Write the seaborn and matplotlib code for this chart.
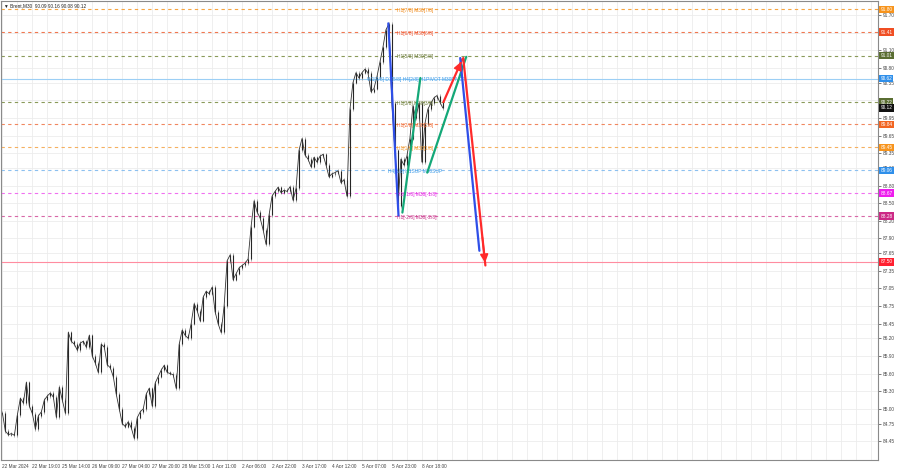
import matplotlib
matplotlib.use("Agg")
import matplotlib.pyplot as plt
import matplotlib.transforms as mtransforms
import numpy as np
import pandas as pd
import seaborn as sns

# Brent M30 closes (about one value per 3 px of chart width)
closes = [84.93, 84.62, 84.56, 84.58, 84.55, 84.90, 85.18, 85.10, 85.45, 85.05,
          84.92, 84.66, 84.88, 84.95, 85.15, 85.22, 85.27, 85.20, 84.86, 85.37,
          85.15, 84.93, 86.30, 86.15, 86.10, 86.00, 86.12, 86.15, 86.05, 86.25,
          85.90, 85.78, 85.62, 86.10, 86.05, 85.75, 85.70, 85.55, 85.25, 85.00,
          84.75, 84.70, 84.78, 84.68, 84.50, 84.85, 84.95, 85.00, 85.25, 85.35,
          85.05, 85.44, 85.55, 85.66, 85.74, 85.62, 85.60, 85.58, 85.35, 86.10,
          86.34, 86.25, 86.20, 86.45, 86.79, 86.67, 86.50, 86.90, 87.00, 86.96,
          87.07, 86.65, 86.45, 86.30, 86.75, 87.52, 87.62, 87.20, 87.30, 87.40,
          87.44, 87.48, 87.55, 88.10, 88.54, 88.35, 88.25, 88.05, 87.80, 88.30,
          88.62, 88.70, 88.77, 88.68, 88.72, 88.70, 88.78, 88.55, 88.75, 89.40,
          89.60, 89.32, 89.25, 89.12, 89.28, 89.20, 89.30, 89.33, 89.15, 88.95,
          89.00, 89.02, 89.05, 88.85, 88.90, 88.62, 90.10, 90.55, 90.72, 90.63,
          90.72, 90.78, 90.72, 90.40, 90.45, 90.65, 90.90, 91.15, 91.45, 91.55,
          90.20, 89.40, 88.45, 89.25, 89.15, 89.30, 89.60, 90.15, 89.95, 90.20,
          89.20, 89.85, 90.10, 90.20, 90.29, 90.33, 90.22, 90.12]

date_labels = ["22 Mar 2024", "22 Mar 19:00", "25 Mar 14:00", "26 Mar 09:00",
               "27 Mar 04:00", "27 Mar 20:00", "28 Mar 15:00", "1 Apr 11:00",
               "2 Apr 06:00", "2 Apr 22:00", "3 Apr 17:00", "4 Apr 12:00",
               "5 Apr 07:00", "5 Apr 23:00", "8 Apr 18:00"]
date_bars = list(range(0, 150, 10))

# right-axis labels that are not hidden behind the level boxes
price_ticks = [91.70, 91.10, 90.80, 90.55, 89.95, 89.65, 89.35,
               89.10, 88.80, 88.50, 88.20, 87.90, 87.65, 87.35, 87.05, 86.75,
               86.45, 86.20, 85.90, 85.60, 85.30, 85.00, 84.75, 84.45]
grid_prices = [91.70, 91.40, 91.10, 90.80, 90.55, 90.25, 89.95, 89.65, 89.35,
               89.10, 88.80, 88.50, 88.20, 87.90, 87.65, 87.35, 87.05, 86.75,
               86.45, 86.20, 85.90, 85.60, 85.30, 85.00, 84.75, 84.45]

# Murrey-style levels
level_prices = [91.80, 91.41, 91.01, 90.62, 90.22, 89.84, 89.45, 89.06, 88.67, 88.28, 87.50]
level_names = ["H1[7/8] M30[7/8]", "H1[6/8] M30[6/8]", "H1[5/8] M30[5/8]",
               "W1[4/8] D1[5/8] H4[2/8] H1PIVOT M30PIVOT", "H1[3/8] M30[3/8]",
               "H1[2/8] M30[2/8]", "H1[1/8] M30[1/8]", "H4[1/8] H1SUP M30SUP",
               "H1[-1/8] M30[-1/8]", "H1[-2/8] M30[-2/8]", ""]
level_label_bars = [131.8, 131.8, 131.8, 121.8, 131.8, 131.8, 131.8, 128.8, 131.8, 131.8, 0]
last_price = 90.12

# forecast legs (start bar, end bar) / (start price, end price)
leg_names = ["blue1", "green1", "green2", "red1", "blue2", "red2"]
leg_bars = [(128.8, 132.2), (133.5, 139.5), (141.8, 154.8), (147.2, 153.5), (152.8, 159.2), (153.8, 161.2)]
leg_prices = [(91.56, 88.29), (88.34, 90.63), (89.02, 90.99), (90.22, 90.95), (90.97, 87.69), (90.97, 87.44)]

# styles
level_line_colors = ["#f7a540", "#f07850", "#8a9a5a", "#9ccff5", "#8a9a5a", "#f08860",
                     "#f5b060", "#8cc0f0", "#f070f0", "#d868a8", "#ff8ca0"]
level_box_colors = ["#f7941d", "#f04e23", "#5a6e32", "#2f8fea", "#5a6e32", "#f26522",
                    "#f7941d", "#2f8fea", "#ee1cee", "#cc2a86", "#ff2030"]
level_text_colors = ["#f08a1a", "#f0502a", "#6b7a3a", "#3a9ae8", "#6b7a3a", "#f06a30",
                     "#f09a30", "#3a9ae8", "#e020e0", "#c83088", "#ff2030"]
leg_palette = {"blue1": "#2f4fe8", "green1": "#14a878", "green2": "#14a878",
               "red1": "#ff2a2a", "blue2": "#2f4fe8", "red2": "#ff2a2a"}

sns.set_theme(style="white")
plt.rcParams["font.family"] = ["Liberation Sans", "DejaVu Sans"]

fig = plt.figure(figsize=(9, 4.68), dpi=100)
ax = fig.add_axes([0.001, 8 / 468, 877 / 900, 459 / 468])

n = len(closes)
bars = np.arange(n)
opens = [closes[0]] + closes[:-1]
lo = np.minimum(opens, closes)
hi = np.maximum(opens, closes)
ax.vlines(bars, lo - 0.03, hi + 0.03, color="#8a8a8a", lw=0.5, zorder=3)
ax.vlines(bars, lo, hi, color="#262626", lw=0.8, zorder=4)
price_df = pd.DataFrame({"bar": bars, "close": closes})
sns.lineplot(data=price_df, x="bar", y="close", color="#333333", lw=0.6, ax=ax, zorder=4)

# grid
for b in np.arange(0, 300, 5):
    ax.axvline(b, color="#ececec", lw=0.6, zorder=0)
for p in grid_prices:
    ax.axhline(p, color="#ececec", lw=0.6, zorder=0)

# level lines
solid = {3, 10}
for i, (p, c) in enumerate(zip(level_prices, level_line_colors)):
    ls = "-" if i in solid else (0, (3, 3))
    ax.axhline(p, color=c, lw=0.8, ls=ls, zorder=1)
    if level_names[i]:
        ax.text(level_label_bars[i], p - 0.02, level_names[i], color=level_text_colors[i],
                fontsize=3.5, va="center", ha="left", zorder=6)

# forecast legs
legs = pd.DataFrame({
    "leg": [nm for nm in leg_names for _ in range(2)],
    "bar": [b for pair in leg_bars for b in pair],
    "price": [p for pair in leg_prices for p in pair],
})
sns.lineplot(data=legs, x="bar", y="price", hue="leg", units="leg", estimator=None,
             palette=leg_palette, sort=False, legend=False, lw=1.6, ax=ax, zorder=7)
for nm in ["red1", "red2"]:
    k = leg_names.index(nm)
    (b0, b1), (p0, p1) = leg_bars[k], leg_prices[k]
    ax.annotate("", xy=(b1, p1), xytext=(b0 + (b1 - b0) * 0.85, p0 + (p1 - p0) * 0.85),
                arrowprops=dict(arrowstyle="-|>,head_length=0.4,head_width=0.2",
                                color=leg_palette[nm], lw=1.2), zorder=8)

ax.set_xlim(-0.5, 292.2)
ax.set_ylim(84.13, 91.94)
ax.set_xlabel("")
ax.set_ylabel("")

ax.set_xticks(date_bars)
ax.set_xticklabels(date_labels, ha="left")
ax.yaxis.tick_right()
ax.set_yticks(price_ticks)
ax.set_yticklabels([f"{p:.2f}" for p in price_ticks])
ax.tick_params(axis="both", labelsize=3.4, colors="#444", length=2, width=0.5, pad=1.5)
ax.tick_params(axis="x", pad=1)

for s in ax.spines.values():
    s.set_color("#8a8a8a")
    s.set_linewidth(0.8)

# price boxes on the right axis
trans = mtransforms.blended_transform_factory(ax.transAxes, ax.transData)
for p, c in zip(level_prices + [last_price], level_box_colors + ["#111111"]):
    ax.text(1.003, p, f"{p:.2f}", transform=trans, color="white", fontsize=3.4,
            va="center", ha="left", clip_on=False, zorder=20,
            bbox=dict(boxstyle="square,pad=0.25", fc=c, ec="none"))

fig.text(0.004, 0.993, "\u25bc Brent,M30  90.09 90.16 90.08 90.12", fontsize=3.4,
         va="top", ha="left", color="#222",
         family=["Liberation Sans", "DejaVu Sans"])

fig.savefig("out.png", dpi=100, facecolor="white")
